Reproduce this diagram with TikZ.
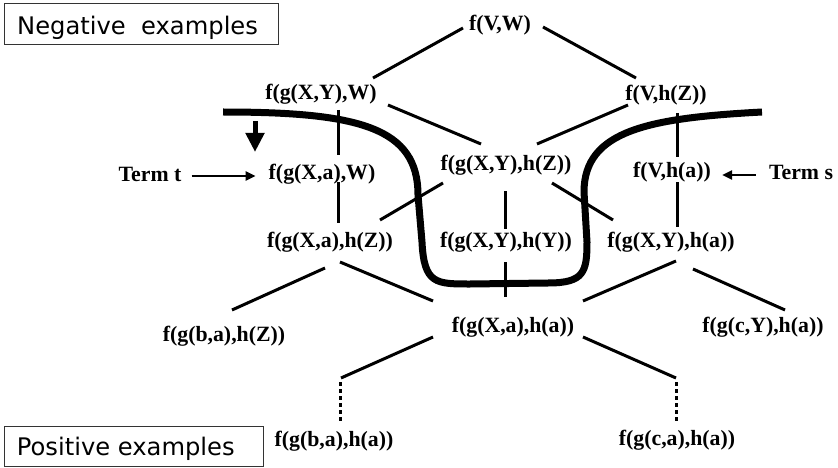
\documentclass[tikz,border=0pt]{standalone}
\usepackage{fontspec}
\setmainfont{Liberation Serif}
\newfontfamily\vfont{DejaVu Sans}
\usetikzlibrary{arrows.meta}
\begin{document}
\begin{tikzpicture}[x=1pt,y=-1pt,
  lbl/.style={inner sep=0pt, font=\bfseries\fontsize{21.8}{24}\selectfont},
  boxtext/.style={inner sep=0pt, anchor=base west, font=\vfont\fontsize{24.2}{28}\selectfont},
  framebox/.style={draw=black!80, line width=1.1pt, anchor=north west, inner sep=0pt},
  edge/.style={line width=3pt},
  dotedge/.style={line width=3pt, dash pattern=on 4pt off 3pt},
  border/.style={line width=7pt},
  termarrow/.style={line width=2.5pt, -{Triangle[length=10pt,width=9pt]}},
  bigarrow/.style={line width=5pt, -{Triangle[length=19pt,width=18pt]}}]
\useasboundingbox (0,0) rectangle (838,468);

% boxes
\node[framebox, minimum width=274pt, minimum height=41pt] (negbox) at (4,3.3) {};
\node[boxtext] (negtext) at (17,34.3) {Negative\ \ examples};
\node[framebox, minimum width=259pt, minimum height=40pt] (posbox) at (4,426) {};
\node[boxtext] (postext) at (16.7,455) {Positive examples};

% term nodes
\node[lbl] (vw)   at (500,25)  {f(V,W)};
\node[lbl] (xyw)  at (321,94)  {f(g(X,Y),W)};
\node[lbl] (vhz)  at (666,95)  {f(V,h(Z))};
\node[lbl] (xaw)  at (322,174) {f(g(X,a),W)};
\node[lbl] (xyhz) at (506,165) {f(g(X,Y),h(Z))};
\node[lbl] (vha)  at (672,172) {f(V,h(a))};
\node[lbl] (xahz) at (330,242) {f(g(X,a),h(Z))};
\node[lbl] (xyhy) at (506,242) {f(g(X,Y),h(Y))};
\node[lbl] (xyha) at (671,242) {f(g(X,Y),h(a))};
\node[lbl] (bahz) at (224,336) {f(g(b,a),h(Z))};
\node[lbl] (xaha) at (513,327) {f(g(X,a),h(a))};
\node[lbl] (cyha) at (763,327) {f(g(c,Y),h(a))};
\node[lbl] (baha) at (334,441) {f(g(b,a),h(a))};
\node[lbl] (caha) at (677,440) {f(g(c,a),h(a))};
\node[lbl] (termt) at (150,174) {Term t};
\node[lbl] (terms) at (801,172) {Term s};

% lattice edges
\draw[edge] ([shift={(-37,3)}]vw.center) -- ([shift={(52,-16)}]xyw.center);
\draw[edge] ([shift={(43,2)}]vw.center) -- ([shift={(-30,-17)}]vhz.center);
\draw[edge] ([shift={(67,11)}]xyw.center) -- ([shift={(-25,-21)}]xyhz.center);
\draw[edge] ([shift={(-38,10)}]vhz.center) -- ([shift={(31,-21)}]xyhz.center);
\draw[edge] ([shift={(17,16)}]xyw.center) -- ([shift={(16,-19)}]xaw.center);
\draw[edge] ([shift={(16,8)}]xaw.center) -- ([shift={(8,-19)}]xahz.center);
\draw[edge] ([shift={(-63,18)}]xyhz.center) -- ([shift={(50,-22)}]xahz.center);
\draw[edge] ([shift={(-1,26)}]xyhz.center) -- ([shift={(-1,-13)}]xyhy.center);
\draw[edge] ([shift={(46,18)}]xyhz.center) -- ([shift={(-58,-22)}]xyha.center);
\draw[edge] ([shift={(11,18)}]vhz.center) -- ([shift={(5,-15)}]vha.center);
\draw[edge] ([shift={(5,10)}]vha.center) -- ([shift={(6,-15)}]xyha.center);
\draw[edge] ([shift={(-5,26)}]xahz.center) -- ([shift={(8,-26)}]bahz.center);
\draw[edge] ([shift={(10,20)}]xahz.center) -- ([shift={(-80,-26)}]xaha.center);
\draw[edge] ([shift={(-1,20)}]xyhy.center) -- ([shift={(-8,-30)}]xaha.center);
\draw[edge] ([shift={(5,19)}]xyha.center) -- ([shift={(70,-26)}]xaha.center);
\draw[edge] ([shift={(22,27)}]xyha.center) -- ([shift={(22,-17)}]cyha.center);

% edges towards the bottom with dotted continuation
\coordinate (dl) at (341,378);
\coordinate (dr) at (676,378);
\draw[edge] ([shift={(-80,10)}]xaha.center) -- (dl);
\draw[edge] ([shift={(70,10)}]xaha.center) -- (dr);
\draw[dotedge] ([shift={(-1,4)}]dl) -- ([shift={(6,-20)}]baha.center);
\draw[dotedge] ([shift={(0,4)}]dr) -- ([shift={(-1,-19)}]caha.center);

% term arrows
\draw[termarrow] ([shift={(10,2)}]termt.east) -- ([shift={(-13,2)}]xaw.west);
\draw[termarrow] ([shift={(-13,3)}]terms.west) -- ([shift={(11,3)}]vha.east);

% downward arrow
\coordinate (da1) at (255,121);
\coordinate (da2) at (255,152);
\draw[bigarrow] (da1) -- (da2);

% border between negative and positive examples
\draw[border] (223,112) .. controls (360,112) and (418,128) .. (418,195)
  -- (422,242) .. controls (424,284) and (436,284) .. (470,284)
  -- (548,283) .. controls (584,283) and (587,272) .. (587,242)
  -- (584,192) .. controls (584,130) and (650,118) .. (762,112);
\end{tikzpicture}
\end{document}
